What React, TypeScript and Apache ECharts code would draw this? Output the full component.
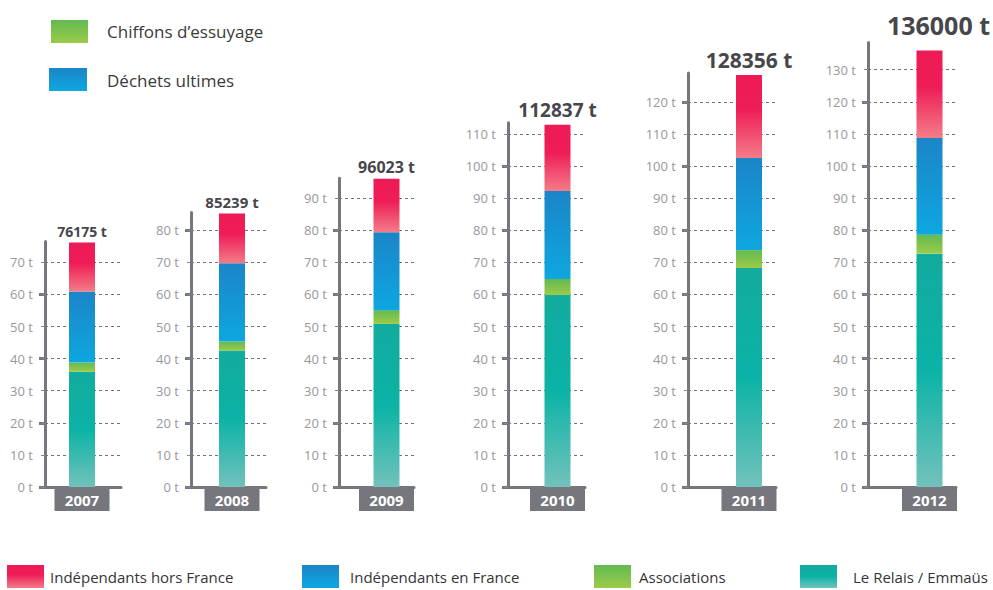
import React, { useEffect, useRef } from 'react';
import * as echarts from 'echarts';

// ---- data (thousands of tonnes, labelled "t" as in the source) ----
const years = ['2007', '2008', '2009', '2010', '2011', '2012'];
const relaisEmmaus = [35.9, 42.5, 50.8, 59.8, 68.2, 72.7];
const associations = [2.85, 2.8, 4.3, 5.0, 5.6, 5.9];
const independantsFrance = [22.15, 24.4, 24.3, 27.4, 28.7, 30.1];
const independantsHorsFrance = [15.275, 15.539, 16.623, 20.637, 25.856, 27.3];
const totals = [76175, 85239, 96023, 112837, 128356, 136000];
const axisMax = [76.5, 85.5, 96.2, 113.5, 129.0, 138.5];
const tickLabelMax = [70, 80, 90, 110, 120, 130];
const tickStep = 10;
const majorTickStep = 20;

const seriesNames = ['Le Relais / Emmaüs', 'Associations', 'Indépendants en France', 'Indépendants hors France'];
const topLegendNames = ['Chiffons d’essuyage', 'Déchets ultimes'];

// ---- layout ----
const axisX = [45, 191, 339, 508, 688, 868];
const barCX = [82, 232, 386.5, 557.5, 749, 929.5];
const dashEnd = [121, 266, 414, 585, 776, 956];
const totalFont = [14, 15, 16, 19, 21, 25];
const totalDist = [4, 4, 4, 5, 4, 13];
const totalDx = [0, 0, 0, 0, 0, 9];
const legendLeft = [7, 302, 594, 800];
const legendGap = [1, 6, 3, 11];
const PX = 3.21;
const BASE = 487;
const GRAY = '#76777d';
const FONT = '"Open Sans", "Noto Sans", sans-serif';

const grad = (stops: [number, string][]) =>
  new echarts.graphic.LinearGradient(0, 0, 0, 1, stops.map(([offset, color]) => ({ offset, color })));

const teal = () => grad([[0, '#12ab9e'], [0.5, '#0bb3a6'], [1, '#72c2bb']]);
const green = () => grad([[0, '#62ba53'], [1, '#9ccb48']]);
const blue = () => grad([[0, '#1b85c8'], [1, '#0ea7e0']]);
const red = () => grad([[0, '#ee1a55'], [0.42, '#ee1d57'], [1, '#f47c87']]);
const colorFns = [teal, green, blue, red];
const seriesData = [relaisEmmaus, associations, independantsFrance, independantsHorsFrance];

export default function App() {
  const ref = useRef<HTMLDivElement>(null);
  useEffect(() => {
    if (!ref.current) return;
    const chart = echarts.init(ref.current, undefined, { renderer: 'svg' });
    const grid: any[] = [];
    const xAxis: any[] = [];
    const yAxis: any[] = [];
    const series: any[] = [];

    years.forEach((yr, i) => {
      const h = axisMax[i] * PX;
      const top = BASE - h;
      grid.push({ left: axisX[i], top, width: dashEnd[i] - axisX[i], height: h, outerBoundsMode: 'none', containLabel: false });
      grid.push({ left: barCX[i] - 27.5, top, width: 55, height: h, outerBoundsMode: 'none', containLabel: false });

      xAxis.push({
        gridIndex: 2 * i, type: 'value', min: 0, max: 1, position: 'bottom',
        axisLine: { show: true, onZero: false, lineStyle: { color: GRAY, width: 3 } },
        axisTick: { show: false }, axisLabel: { show: false }, splitLine: { show: false },
      });
      xAxis.push({
        gridIndex: 2 * i + 1, type: 'category', data: [yr], position: 'bottom',
        axisLine: { show: false }, axisTick: { show: false }, splitLine: { show: false },
        axisLabel: {
          margin: 0, color: '#ffffff', fontSize: 15, fontWeight: 'bold', fontFamily: FONT,
          backgroundColor: GRAY, width: 55, align: 'center', lineHeight: 17, padding: [4, 0, 3, 0],
        },
      });

      const tens: number[] = [];
      for (let v = 0; v <= tickLabelMax[i]; v += tickStep) tens.push(v);
      const majors = tens.filter((v) => v % majorTickStep === 0);

      yAxis.push({
        gridIndex: 2 * i, type: 'value', min: 0, max: axisMax[i], position: 'left',
        axisLine: { show: true, lineStyle: { color: GRAY, width: 3 } },
        axisTick: { show: true, customValues: majors, length: 6, lineStyle: { color: GRAY, width: 3 } },
        axisLabel: { show: false }, splitLine: { show: false },
      });
      yAxis.push({
        gridIndex: 2 * i, type: 'value', min: 0, max: axisMax[i], position: 'left',
        axisLine: { show: false },
        axisTick: { show: true, customValues: tens, length: 4, lineStyle: { color: '#85868b', width: 1 } },
        axisLabel: { customValues: tens, formatter: '{value} t', color: '#97989d', fontSize: 13, margin: 12, fontFamily: FONT },
        splitLine: { show: true, lineStyle: { color: '#727378', type: [3, 3], width: 1 } },
      });
      yAxis.push({ gridIndex: 2 * i + 1, type: 'value', min: 0, max: axisMax[i], show: false });

      seriesData.forEach((arr, k) => {
        const isTop = k === seriesData.length - 1;
        series.push({
          name: seriesNames[k], type: 'bar', stack: 'p' + i,
          xAxisIndex: 2 * i + 1, yAxisIndex: 3 * i + 2,
          barWidth: 26, data: [arr[i]],
          itemStyle: { color: colorFns[k]() },
          label: isTop
            ? {
                show: true, position: 'top', distance: totalDist[i], offset: [totalDx[i], 0],
                formatter: totals[i] + ' t', fontSize: totalFont[i], fontWeight: 'bold',
                color: '#46464b', fontFamily: FONT,
              }
            : { show: false },
        });
      });
    });

    const order = [3, 2, 1, 0];
    const legend = order.map((k, j) => ({
      data: [seriesNames[k]], left: legendLeft[j], top: 565, padding: 0, orient: 'horizontal',
      itemWidth: 37, itemHeight: 23, icon: 'rect', selectedMode: false,
      textStyle: { fontSize: 15, color: '#353535', fontFamily: FONT, padding: [0, 0, 0, legendGap[j]] },
    }));

    chart.setOption({
      animation: false,
      backgroundColor: '#ffffff',
      grid, xAxis, yAxis, series, legend,
      graphic: [
        { type: 'rect', shape: { x: 51, y: 20, width: 37, height: 23 }, style: { fill: green() } },
        { type: 'text', x: 107, y: 31, style: { text: topLegendNames[0], fontSize: 17, fill: '#3a3a3a', fontFamily: FONT, verticalAlign: 'middle' } },
        { type: 'rect', shape: { x: 49, y: 68, width: 38, height: 23 }, style: { fill: blue() } },
        { type: 'text', x: 107, y: 80, style: { text: topLegendNames[1], fontSize: 17, fill: '#3a3a3a', fontFamily: FONT, verticalAlign: 'middle' } },
      ],
    });
    return () => chart.dispose();
  }, []);
  return <div ref={ref} style={{ position: 'fixed', left: 0, top: 0, width: 993, height: 590, background: '#fff' }} />;
}
